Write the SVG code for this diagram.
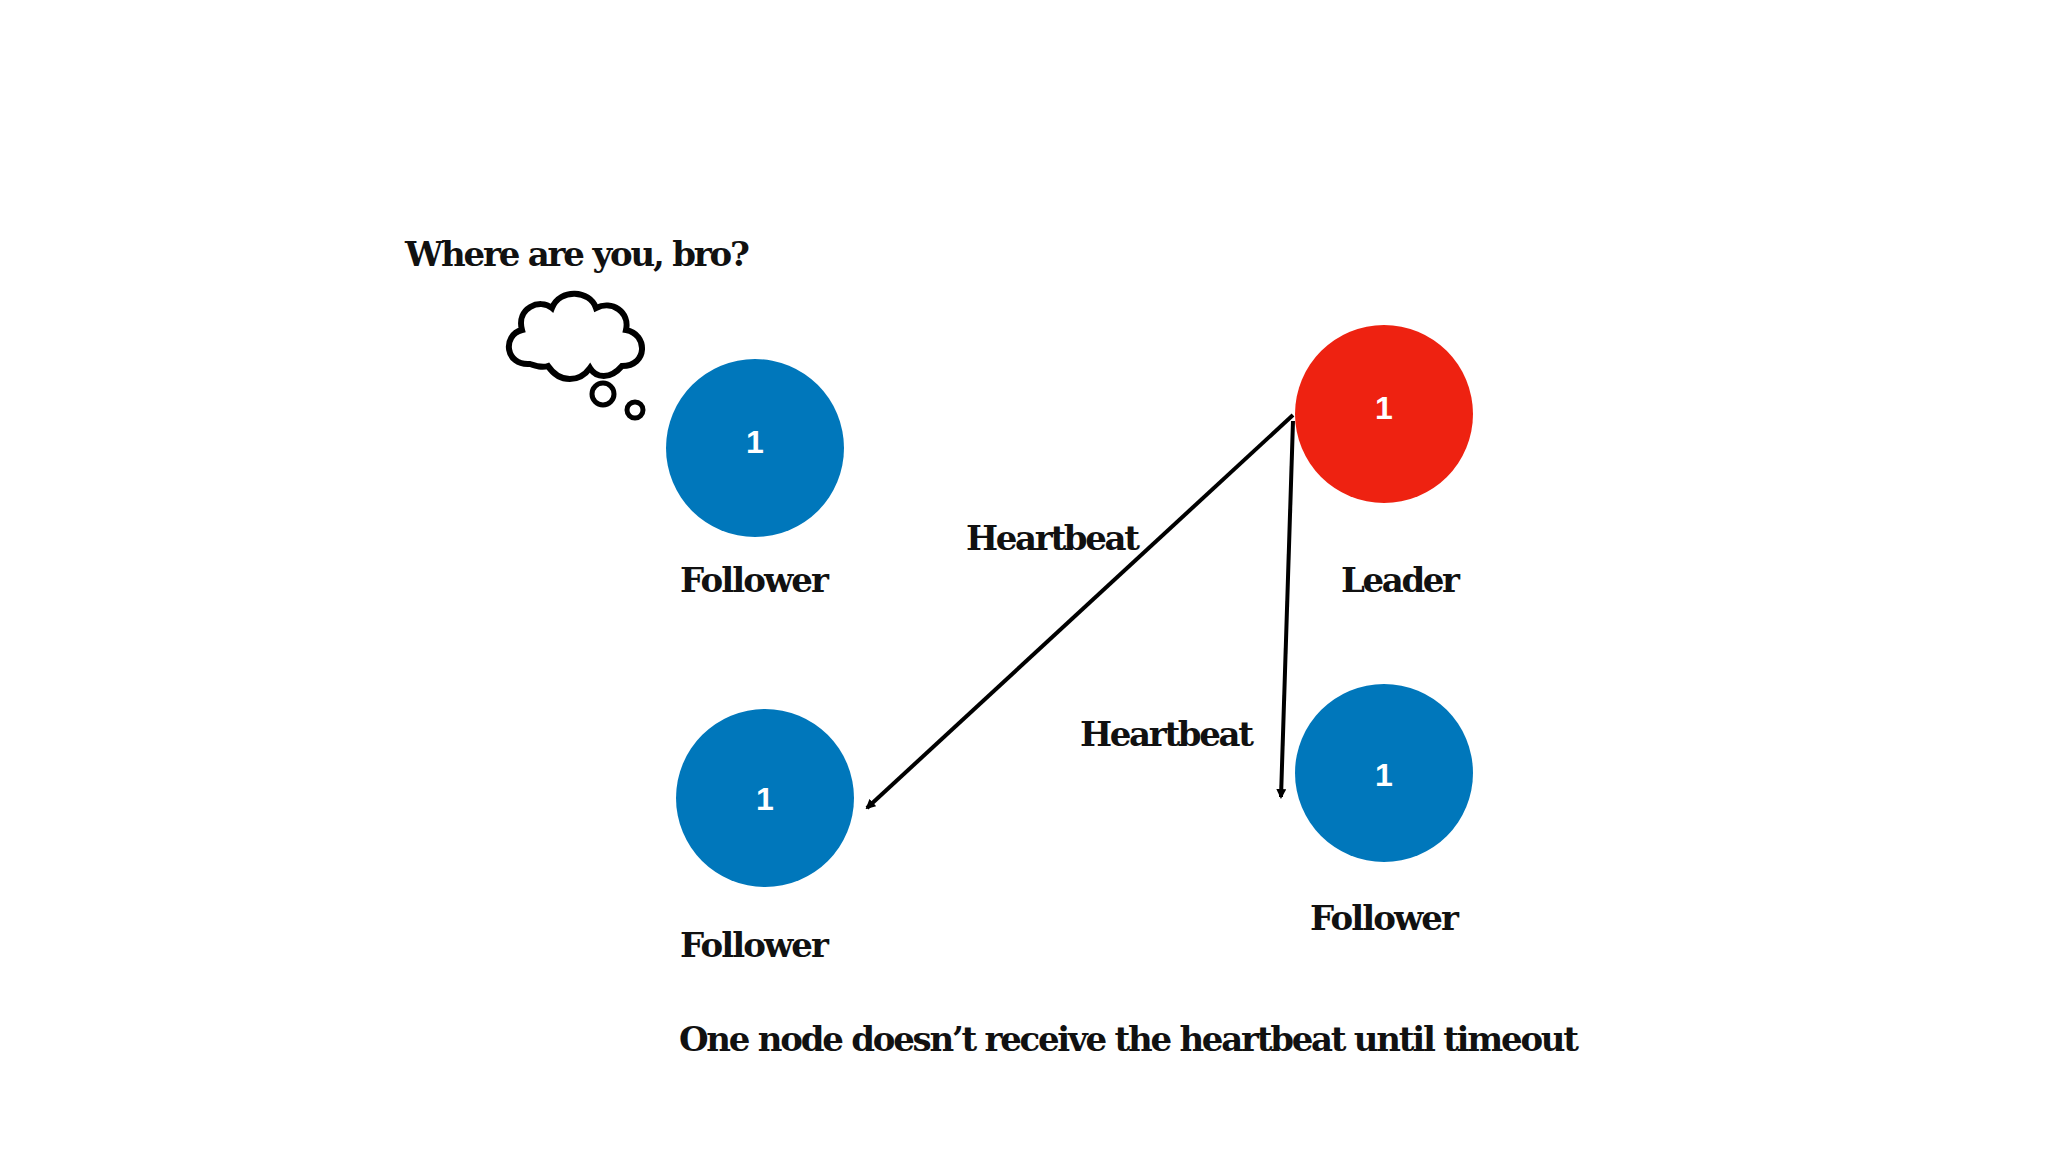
<svg xmlns="http://www.w3.org/2000/svg" width="2048" height="1152" viewBox="0 0 2048 1152">
<style>
.t{font-family:"DejaVu Serif","Liberation Serif",serif;font-weight:bold;font-size:34px;fill:#111}
.n{font-family:"Liberation Sans",Arial,sans-serif;font-weight:bold;font-size:32px;fill:#fff;text-anchor:middle}
.c{stroke:#000;stroke-width:4;fill:none}
</style>
<defs><marker id="ah" markerWidth="10" markerHeight="10" refX="8" refY="5" orient="auto" markerUnits="userSpaceOnUse" viewBox="0 0 10 10"><path d="M0,0 L10,5 L0,10 z" fill="#000"/></marker></defs>
<rect width="2048" height="1152" fill="#fff"/>
<g id="thought">
<text class="t" x="405" y="266" textLength="345">Where are you, bro?</text>
<path d="M530,364 C505,366 502,335 522,330 C516,308 540,298 552,308 C560,288 590,290 596,308 C612,300 630,312 626,330 C648,334 648,366 622,366 C610,380 596,378 590,368 C580,382 560,384 548,366 C542,368 536,366 530,364 Z" fill="none" stroke="#000" stroke-width="6"/>
<circle cx="603" cy="394" r="11" fill="none" stroke="#000" stroke-width="5"/>
<circle cx="635" cy="410" r="8" fill="none" stroke="#000" stroke-width="5"/>
</g>
<g id="f1"><circle cx="755" cy="448" r="89" fill="#0077BB"/><text class="n" x="755" y="453">1</text><text class="t" x="680" y="592" textLength="149">Follower</text></g>
<g id="leader"><circle cx="1384" cy="414" r="89" fill="#EE2211"/><text class="n" x="1384" y="419">1</text><text class="t" x="1341" y="592" textLength="119">Leader</text></g>
<g id="f2"><circle cx="765" cy="798" r="89" fill="#0077BB"/><text class="n" x="765" y="810">1</text><text class="t" x="680" y="957" textLength="149">Follower</text></g>
<g id="f3"><circle cx="1384" cy="773" r="89" fill="#0077BB"/><text class="n" x="1384" y="786">1</text><text class="t" x="1310" y="930" textLength="149">Follower</text></g>
<g id="connectors">
<line class="c" x1="1293" y1="415" x2="867" y2="808" marker-end="url(#ah)"/>
<line class="c" x1="1293" y1="421" x2="1281" y2="797" marker-end="url(#ah)"/>
<text class="t" x="966" y="550" textLength="174">Heartbeat</text>
<text class="t" x="1080" y="746" textLength="174">Heartbeat</text>
</g>
<text class="t" x="679" y="1051" textLength="1900" lengthAdjust="spacingAndGlyphs" style="display:none">x</text>
<text class="t" x="679" y="1051" textLength="900">One node doesn’t receive the heartbeat until timeout</text>
</svg>
